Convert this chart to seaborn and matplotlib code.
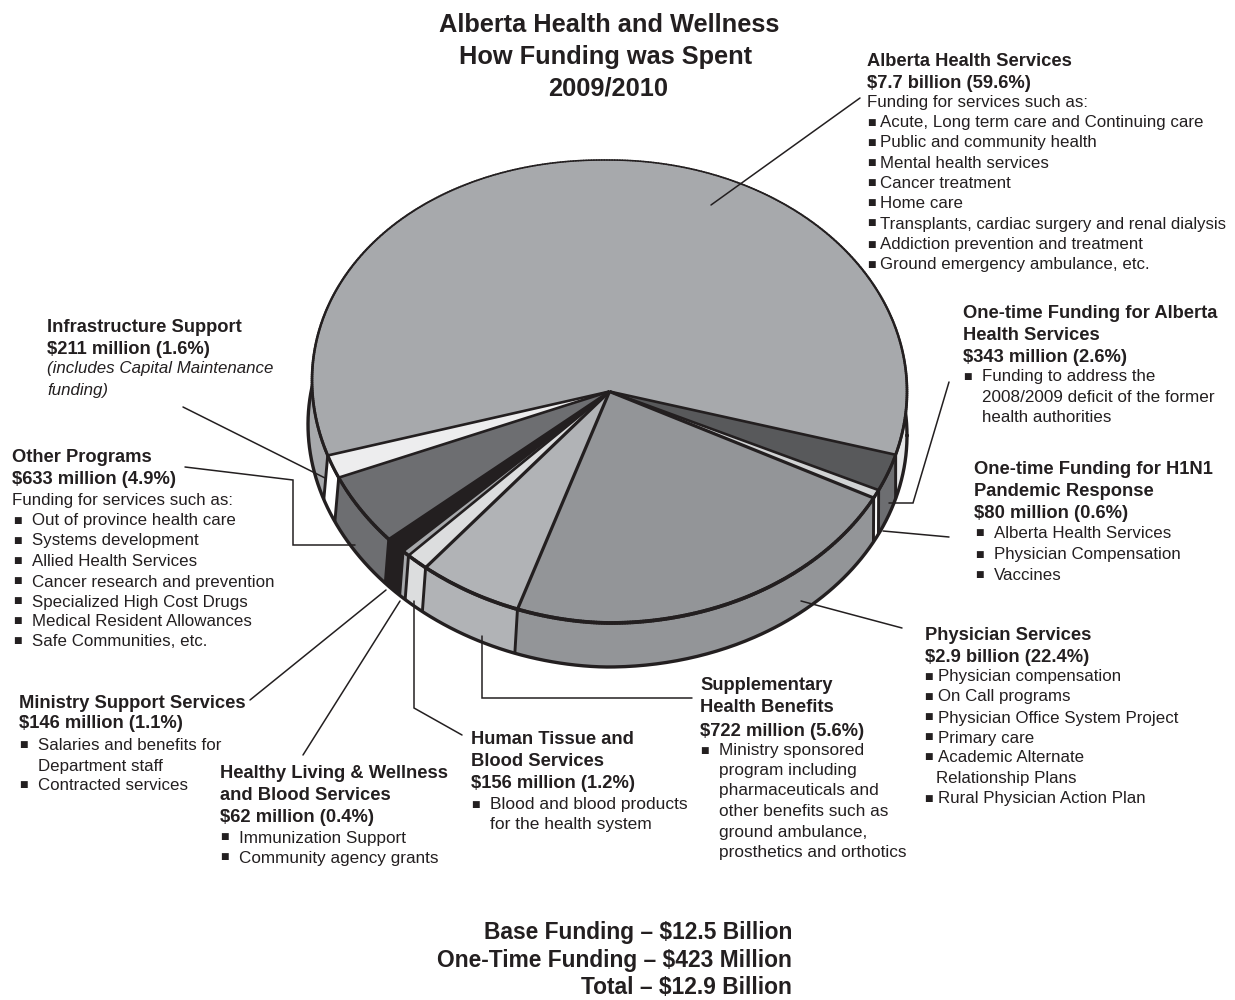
import numpy as np
import matplotlib
matplotlib.use("Agg")
import matplotlib.pyplot as plt
from matplotlib.collections import LineCollection
import seaborn as sns

# Spending categories, clockwise from the largest slice
categories = ["Alberta Health Services", "One-time Funding for Alberta Health Services",
              "One-time Funding for H1N1 Pandemic Response", "Physician Services",
              "Supplementary Health Benefits", "Human Tissue and Blood Services",
              "Healthy Living & Wellness and Blood Services", "Ministry Support Services",
              "Other Programs", "Infrastructure Support"]
shares = [59.6, 2.6, 0.6, 22.4, 5.6, 1.2, 0.4, 1.1, 4.9, 1.6]
top_colors = ["#A7A9AC", "#58595B", "#D1D3D4", "#939598", "#B1B3B6",
              "#DCDDDE", "#A7A9AC", "#231F20", "#6D6E71", "#EDEDEE"]
wall_colors = ["#A7A9AC", "#6D6E71", "#F8F8F8", "#939598", "#B1B3B6",
               "#DCDDDE", "#A7A9AC", "#231F20", "#6D6E71", "#FFFFFF"]

title_lines = ["Alberta Health and Wellness", "How Funding was Spent", "2009/2010"]
footer_lines = ["Base Funding – $12.5 Billion", "One-Time Funding – $423 Million", "Total – $12.9 Billion"]

INK = "#231F20"
W, H = 1235, 1000
# Top face and base ellipses, in pixels
CX, CY, RX, RY = 609.5, 391.5, 297.5, 231.5
BX, BY, BRX, BRY = 607.5, 435.5, 299.5, 231.5
SAG = 11.0       # the left half of the drawing leans upward by this much
START = 198.7

sns.set_theme(style="white")
plt.rcParams["font.family"] = ["Liberation Sans", "DejaVu Sans"]
plt.rcParams["text.color"] = INK

fig = plt.figure(figsize=(W / 100, H / 100), dpi=100, facecolor="white")
ax = fig.add_axes([0, 0, 1, 1])
palette_top = sns.color_palette(top_colors)
palette_wall = sns.color_palette(wall_colors)

sweep = np.array(shares) / sum(shares) * 360
edges = START - np.concatenate([[0], np.cumsum(sweep)])


def lean(c):
    return SAG * np.clip(-c, 0, None) ** 1.3


def top_rim(t):
    c, s = np.cos(np.radians(t)), np.sin(np.radians(t))
    return CX + RX * c, CY - RY * s - lean(c)


def base_rim(t):
    c, s = np.cos(np.radians(t)), np.sin(np.radians(t))
    return BX + BRX * c, BY - BRY * s - lean(c)


# Side walls first; the top face is painted over their hidden back part
for hi, lo, col in zip(edges[:-1], edges[1:], palette_wall):
    ts = np.linspace(hi, lo, 240)
    tx, ty = top_rim(ts)
    bx, by = base_rim(ts)
    ax.fill(np.r_[tx, bx[::-1]], np.r_[ty, by[::-1]], color=col, lw=0, zorder=1)

# Highlight on the narrow right-hand end of the largest slice's wall
ts = np.linspace(edges[1], 0, 60)
tx, ty = top_rim(ts)
bx, by = base_rim(ts)
ax.fill(np.r_[tx, bx[::-1]], np.r_[ty, by[::-1]], color="#E6E7E8", lw=0, zorder=1.5)

for t in edges[:-1]:
    tx, ty = top_rim(t)
    bx, by = base_rim(t)
    ax.plot([tx, bx], [ty, by], color=INK, lw=2.1, solid_capstyle="butt", zorder=2)

ts = np.linspace(0, 360, 720)
bx, by = base_rim(ts)
ax.plot(bx, by, color=INK, lw=2.4, zorder=3)

# Top face slices
for hi, lo, col in zip(edges[:-1], edges[1:], palette_top):
    ts = np.linspace(hi, lo, 240)
    tx, ty = top_rim(ts)
    ax.fill(np.r_[CX, tx], np.r_[CY, ty], color=col, lw=0, zorder=4)

for i, t in enumerate(edges[:-1]):
    tx, ty = top_rim(t)
    ax.plot([CX, tx], [CY, ty], color=INK, lw=2.3 if i in (3, 4, 5) else 1.9,
            solid_capstyle="butt", zorder=5)

# Rim of the top face, heavier towards the viewer
ts = np.linspace(0, 360, 721)
tx, ty = top_rim(ts)
pts = np.column_stack([tx, ty])
segs = np.stack([pts[:-1], pts[1:]], axis=1)
widths = 1.95 - 0.8 * np.sin(np.radians(ts[:-1]))
ax.add_collection(LineCollection(segs, colors=INK, linewidths=widths, zorder=6, capstyle="round"))

# Leader lines from each label to its slice
leaders = [
    ([860, 711], [98, 205]),
    ([949, 913, 889], [382, 503, 503]),
    ([949, 883], [537, 531]),
    ([902, 801], [628, 601]),
    ([692, 482, 482], [698, 698, 636]),
    ([462, 414, 414], [735, 708, 601]),
    ([303, 400], [755, 601]),
    ([250, 386], [700, 590]),
    ([185, 293, 293, 355], [467, 480, 545, 545]),
    ([183, 325], [407, 478]),
]
for xs, ys in leaders:
    sns.lineplot(x=xs, y=ys, sort=False, estimator=None, color=INK, lw=1.1,
                 solid_joinstyle="miter", zorder=7, ax=ax)

ax.set_xlim(0, W)
ax.set_ylim(H, 0)
ax.axis("off")

BODY = 12.15
HEAD = 13.25


def bold(x, y, s):
    ax.text(x, y + 1, s, fontsize=HEAD, fontweight="bold", va="center", ha="left")


def body(x, y, s, style="normal", size=BODY):
    ax.text(x, y + 1, s, fontsize=size, va="center", ha="left", fontstyle=style)


def bullet(x, y, s, text_x, size=BODY):
    ax.text(x, y, "\u25A0", fontsize=6.5, va="center", ha="center", family="DejaVu Sans")
    body(text_x, y, s, size=size)


for cx, y, s in zip([609, 605.5, 608.5], [25, 57, 89], title_lines):
    ax.text(cx, y, s, fontsize=18.3, fontweight="bold", ha="center", va="center")
for y, s in zip([932, 961, 988], footer_lines):
    ax.text(792, y, s, fontsize=16.4, fontweight="bold", ha="right", va="center")

# Alberta Health Services
bold(867, 60, "Alberta Health Services")
bold(867, 82, "$7.7 billion (59.6%)")
body(867, 102, "Funding for services such as:")
for y, s, size in zip([122, 142, 163, 183, 203, 223, 244, 264],
                      ["Acute, Long term care and Continuing care", "Public and community health",
                       "Mental health services", "Cancer treatment", "Home care",
                       "Transplants, cardiac surgery and renal dialysis",
                       "Addiction prevention and treatment", "Ground emergency ambulance, etc."],
                      [12.2, 12.2, 12.2, 12.2, 12.2, 12.05, 12.2, 12.2]):
    bullet(871, y, s, 880, size=size)

# One-time funding
bold(963, 312, "One-time Funding for Alberta")
bold(963, 334, "Health Services")
bold(963, 356, "$343 million (2.6%)")
bullet(967, 376, "Funding to address the", 982)
body(982, 396, "2008/2009 deficit of the former", size=12.3)
body(982, 416, "health authorities")

# H1N1
bold(974, 469, "One-time Funding for H1N1")
bold(974, 491, "Pandemic Response")
bold(974, 513, "$80 million (0.6%)")
for y, s in zip([533, 554, 574], ["Alberta Health Services", "Physician Compensation", "Vaccines"]):
    bullet(979, y, s, 994)

# Physician Services
bold(925, 634, "Physician Services")
bold(925, 656, "$2.9 billion (22.4%)")
for y, s in zip([676, 696, 717, 737, 757],
                ["Physician compensation", "On Call programs", "Physician Office System Project",
                 "Primary care", "Academic Alternate"]):
    bullet(928, y, s, 938)
body(936, 777, "Relationship Plans")
bullet(928, 798, "Rural Physician Action Plan", 938)

# Supplementary Health Benefits
bold(700, 685, "Supplementary")
bold(700, 707, "Health Benefits")
bold(700, 730, "$722 million (5.6%)")
bullet(704, 750, "Ministry sponsored", 719, size=12.45)
for y, s in zip([770, 790, 811, 831, 851],
                ["program including", "pharmaceuticals and", "other benefits such as",
                 "ground ambulance,", "prosthetics and orthotics"]):
    body(719, y, s, size=12.45)

# Human Tissue
bold(471, 739, "Human Tissue and")
bold(471, 761, "Blood Services")
bold(471, 783, "$156 million (1.2%)")
bullet(475, 804, "Blood and blood products", 490, size=12.5)
body(490, 824, "for the health system", size=12.5)

# Healthy Living
bold(220, 773, "Healthy Living & Wellness")
bold(220, 795, "and Blood Services")
bold(220, 817, "$62 million (0.4%)")
bullet(224, 837, "Immunization Support", 239, size=12.3)
bullet(224, 857, "Community agency grants", 239, size=12.3)

# Ministry Support
bold(19, 702, "Ministry Support Services")
bold(19, 723, "$146 million (1.1%)")
bullet(23, 744, "Salaries and benefits for", 38)
body(38, 765, "Department staff")
bullet(23, 785, "Contracted services", 38)

# Other Programs
bold(12, 457, "Other Programs")
bold(12, 478, "$633 million (4.9%)")
body(12, 499, "Funding for services such as:")
for y, s in zip([520, 540, 560, 581, 601, 621, 641],
                ["Out of province health care", "Systems development", "Allied Health Services",
                 "Cancer research and prevention", "Specialized High Cost Drugs",
                 "Medical Resident Allowances", "Safe Communities, etc."]):
    bullet(17, y, s, 32)

# Infrastructure
bold(47, 326, "Infrastructure Support")
bold(47, 348, "$211 million (1.6%)")
body(47, 368, "(includes Capital Maintenance", "italic")
body(47, 389, "funding)", "italic")

fig.savefig("out.png", dpi=100, facecolor="white")
